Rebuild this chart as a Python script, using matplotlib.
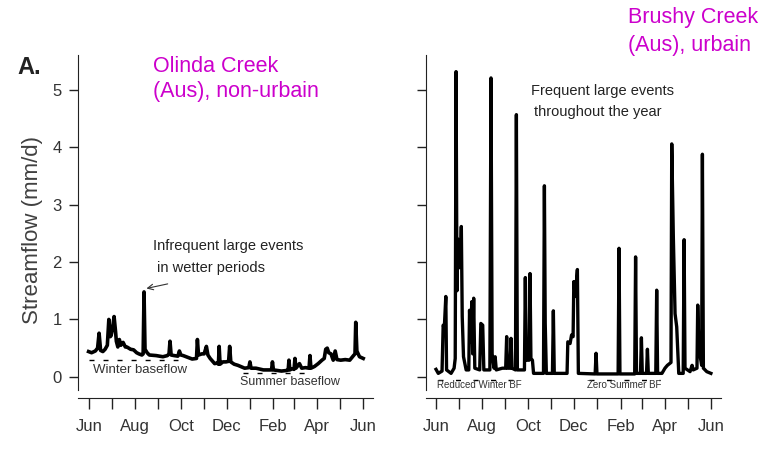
import matplotlib
matplotlib.use("Agg")
import matplotlib.pyplot as plt

plt.rcParams['font.family'] = ['Liberation Sans', 'DejaVu Sans']

# days since 1 June
month_lengths = [30, 31, 31, 30, 31, 30, 31, 31, 28, 31, 30, 31]
month_labels = ['Jun', '', 'Aug', '', 'Oct', '', 'Dec', '', 'Feb', '', 'Apr', '', 'Jun']

olinda_day = [-1, 3, 8, 11, 13, 15, 18, 21,
              24, 26, 28, 29, 31, 33, 35, 36,
              38, 40, 42, 45, 48, 50, 55, 59,
              63, 66, 70, 71.7, 72.9, 74.2, 77, 80,
              89, 98, 104, 106.2, 107.5, 109, 113, 118,
              120, 122, 125, 131, 137, 142.8, 144, 145.5,
              150, 153, 156, 158, 161, 167, 170, 172,
              173, 174.2, 178, 182, 185.6, 187, 188.5, 193,
              198, 207, 212.5, 214, 215.5, 222, 232, 242.8,
              244, 245.3, 256, 263, 265, 266, 267.2, 270,
              272.8, 274, 275.3, 280, 283, 288, 292.8, 294,
              295.3, 300, 305, 310, 313, 315, 317, 319,
              322, 325, 327.6, 330, 335, 341, 347, 352,
              354, 355, 356.5, 360, 365]
olinda_flow = [0.44, 0.42, 0.45, 0.50, 0.76, 0.46, 0.44, 0.48,
               0.55, 1.00, 0.70, 0.72, 0.85, 1.05, 0.78, 0.62,
               0.52, 0.65, 0.55, 0.60, 0.52, 0.52, 0.48, 0.47,
               0.42, 0.40, 0.38, 0.40, 1.48, 0.48, 0.42, 0.38,
               0.37, 0.35, 0.37, 0.40, 0.62, 0.38, 0.37, 0.36,
               0.45, 0.38, 0.37, 0.34, 0.31, 0.32, 0.65, 0.38,
               0.40, 0.40, 0.53, 0.38, 0.32, 0.23, 0.24, 0.22,
               0.53, 0.22, 0.26, 0.26, 0.27, 0.53, 0.26, 0.22,
               0.20, 0.15, 0.16, 0.26, 0.15, 0.15, 0.12, 0.12,
               0.26, 0.12, 0.10, 0.11, 0.12, 0.29, 0.12, 0.14,
               0.13, 0.32, 0.15, 0.23, 0.15, 0.16, 0.15, 0.37,
               0.15, 0.18, 0.23, 0.29, 0.32, 0.48, 0.50, 0.42,
               0.40, 0.29, 0.45, 0.30, 0.29, 0.30, 0.29, 0.37,
               0.40, 0.95, 0.45, 0.35, 0.32]

brushy_day = [0, 3, 8, 9.5, 11, 13, 14, 20,
              24, 25.5, 26.6, 27.8, 29, 30.5, 32.5, 33.6,
              34.8, 36.5, 40, 43.5, 44.5, 46, 47.5, 48.7,
              50, 51.5, 58, 59.5, 62, 63.5, 71.5, 73,
              74.5, 77, 78.5, 80, 88, 92.5, 93.8, 95,
              98.4, 99.6, 100.8, 105.5, 106.7, 108, 117.4, 118.6,
              119.8, 123.6, 124.8, 126, 128, 129.5, 142.7, 143.9,
              145, 146.5, 154.6, 155.8, 157, 174, 175, 178,
              180, 182, 183, 185, 187.7, 189, 211.3, 212.5,
              213.7, 241.8, 243, 244.2, 263.8, 265, 266.2, 271.5,
              272.7, 273.9, 279.5, 280.7, 281.9, 291.8, 293, 294.2,
              300, 304, 307.2, 312, 313, 315.1, 317.4, 319.6,
              322.3, 328.2, 329.4, 330.6, 337.3, 340, 341.5, 346.5,
              347.5, 349, 352.7, 353.7, 355, 359.5, 365]
brushy_flow = [0.13, 0.06, 0.10, 0.90, 0.85, 1.40, 0.12, 0.06,
               0.15, 0.32, 5.32, 1.50, 2.40, 1.90, 2.00, 2.62,
               1.05, 0.35, 0.12, 0.12, 1.16, 0.60, 1.31, 0.40,
               1.37, 0.15, 0.12, 0.93, 0.90, 0.12, 0.12, 5.21,
               0.40, 0.15, 0.35, 0.12, 0.15, 0.15, 0.70, 0.15,
               0.15, 0.67, 0.15, 0.12, 4.57, 0.12, 0.12, 1.73,
               0.29, 0.29, 1.80, 0.32, 0.29, 0.06, 0.06, 3.33,
               0.93, 0.06, 0.06, 1.15, 0.06, 0.06, 0.61, 0.58,
               0.73, 0.70, 1.66, 1.40, 1.87, 0.06, 0.05, 0.41,
               0.05, 0.05, 2.24, 0.05, 0.05, 2.09, 0.06, 0.06,
               0.68, 0.06, 0.06, 0.48, 0.06, 0.06, 1.51, 0.06,
               0.06, 0.15, 0.20, 0.25, 4.06, 2.44, 1.10, 0.87,
               0.06, 0.06, 2.39, 0.15, 0.09, 0.20, 0.12, 0.15,
               1.25, 0.50, 0.20, 3.88, 0.15, 0.09, 0.06]

month_ticks = [0]
for n in month_lengths:
    month_ticks.append(month_ticks[-1] + n)

W, H = 776, 454
fig = plt.figure(figsize=(W / 100, H / 100), dpi=100)


def make_axes(x0, x1, xlim):
    ax = fig.add_axes([x0 / W, 1 - 390 / H, (x1 - x0) / W, (390 - 55) / H])
    ax.set_xlim(*xlim)
    ax.set_ylim(-0.23, 5.61)
    for s in ['top', 'right']:
        ax.spines[s].set_visible(False)
    ax.spines['bottom'].set_position(('outward', 5.8))
    ax.spines['left'].set_color('#222222')
    ax.spines['bottom'].set_color('#222222')
    ax.set_xticks(month_ticks)
    ax.set_xticklabels(month_labels)
    ax.set_yticks([0, 1, 2, 3, 4, 5])
    ax.tick_params(axis='x', length=8, width=1, pad=7, labelsize=12,
                   colors='#222222', labelcolor='#333333')
    ax.tick_params(axis='y', length=6.5, width=1, pad=5, labelsize=12,
                   colors='#222222', labelcolor='#333333')
    return ax


ax1 = make_axes(77.7, 373, (-15.5, 378))
ax1.plot(olinda_day, olinda_flow, color='black', lw=2.6, solid_joinstyle='round')
ax1.plot([0, 118], [0.30, 0.30], color='black', lw=1, ls=(0, (3.6, 6.5)))
ax1.plot([205, 298], [0.06, 0.06], color='black', lw=1, ls=(0, (3.6, 6.5)))
ax1.text(5, 0.12, 'Winter baseflow', fontsize=9.5, color='#333333', va='center')
ax1.text(200.7, -0.09, 'Summer baseflow', fontsize=9, color='#333333', va='center')
ax1.text(85, 2.28, 'Infrequent large events', fontsize=10.5, color='#222222', va='center')
ax1.text(90, 1.90, 'in wetter periods', fontsize=10.5, color='#222222', va='center')
ax1.annotate('', xy=(72.5, 1.53), xytext=(108, 1.63),
             arrowprops=dict(arrowstyle='->', color='#333333', lw=0.8))

ax2 = make_axes(425.7, 720.7, (-13.7, 378))
ax2.set_yticklabels([])
ax2.plot(brushy_day, brushy_flow, color='black', lw=2.4, solid_joinstyle='round')
ax2.plot([3, 118], [-0.05, -0.05], color='black', lw=1, ls=(0, (3.6, 9)))
ax2.plot([203, 298], [-0.05, -0.05], color='black', lw=1, ls=(0, (3.6, 9)))
ax2.text(1, -0.14, 'Reduced Winter BF', fontsize=7, color='#333333', va='center')
ax2.text(200, -0.14, 'Zero Summer BF', fontsize=7, color='#333333', va='center')
ax2.text(125.8, 4.99, 'Frequent large events', fontsize=10.5, color='#222222', va='center')
ax2.text(130, 4.62, 'throughout the year', fontsize=10.5, color='#222222', va='center')

magenta = '#CC00CC'
fig.text(17 / W, 1 - 67 / H, 'A.', fontsize=17, fontweight='bold', color='#222222', va='center')
fig.text(153 / W, 1 - 66 / H, 'Olinda Creek', fontsize=15.5, color=magenta, va='center')
fig.text(153 / W, 1 - 92 / H, '(Aus), non-urbain', fontsize=15.5, color=magenta, va='center')
fig.text(628 / W, 1 - 18 / H, 'Brushy Creek', fontsize=15.5, color=magenta, va='center')
fig.text(628 / W, 1 - 45 / H, '(Aus), urbain', fontsize=15.5, color=magenta, va='center')
fig.text(33 / W, 1 - 230 / H, 'Streamflow (mm/d)', fontsize=16, color='#404040',
         rotation=90, ha='center', va='center')

fig.savefig('out.png', dpi=100)
